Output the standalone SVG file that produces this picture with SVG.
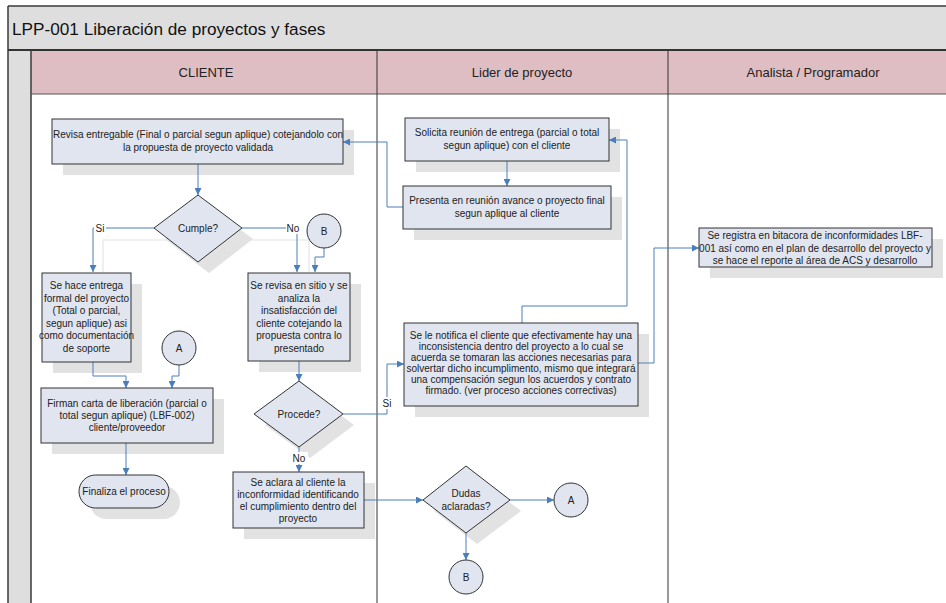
<svg xmlns="http://www.w3.org/2000/svg" width="946" height="603" viewBox="0 0 946 603">
<defs>
<marker id="arr" viewBox="0 0 10 10" refX="10" refY="5" markerWidth="7" markerHeight="7" orient="auto" markerUnits="userSpaceOnUse">
<path d="M0,0 L10,5 L0,10 z" fill="#4a7ebb"/>
</marker>
<style>
.frame{fill:none;stroke:#3a3a3a;stroke-width:1.5}
.box{fill:#e0e5ef;stroke:#333;stroke-width:1}
.sh{fill:#e2e2e2;stroke:none}
.conn{fill:none;stroke:#4a7ebb;stroke-width:1;marker-end:url(#arr)}
.line{fill:none;stroke:#4a7ebb;stroke-width:1}
.cs{fill:none;stroke:#e4e4e4;stroke-width:1.2}
.t{font-family:"Liberation Sans",Arial,sans-serif;font-size:10px;fill:#222;text-anchor:middle}
.lbl{font-family:"Liberation Sans",Arial,sans-serif;font-size:10px;fill:#222;text-anchor:middle}
.hd{font-family:"Liberation Sans",Arial,sans-serif;font-size:13px;fill:#222;text-anchor:middle}
</style>
</defs>
<rect width="946" height="603" fill="#ffffff"/>
<!-- pool frame -->
<g id="pool">
<rect x="8" y="6" width="945" height="44" fill="#dedede"/>
<text x="12" y="35" font-family="Liberation Sans,Arial,sans-serif" font-size="17.2" fill="#111">LPP-001 Liberación de proyectos y fases</text>
<rect x="8" y="50" width="23" height="560" fill="#dedede"/>
<rect x="31" y="50" width="920" height="44" fill="#dfbec3"/>
<line x1="8" y1="6" x2="946" y2="6" class="frame"/>
<line x1="8" y1="6" x2="8" y2="603" class="frame"/>
<line x1="8" y1="50" x2="946" y2="50" stroke="#333" stroke-width="2"/>
<line x1="31" y1="50" x2="31" y2="603" class="frame"/>
<line x1="31" y1="94" x2="946" y2="94" stroke="#555" stroke-width="1"/>
<line x1="377" y1="50" x2="377" y2="603" stroke="#333" stroke-width="1"/>
<line x1="668" y1="50" x2="668" y2="603" stroke="#333" stroke-width="1"/>
<text x="206" y="77" class="hd">CLIENTE</text>
<text x="522" y="77" class="hd">Lider de proyecto</text>
<text x="813" y="77" class="hd">Analista / Programador</text>
</g>
<!-- shadows -->
<g id="shadows">
<rect x="63" y="130" width="291" height="45" class="sh"/>
<polygon points="209,206 253,239 209,273 165,239" class="sh"/>
<rect x="53" y="284" width="89" height="89" class="sh"/>
<rect x="259" y="284" width="102" height="88" class="sh"/>
<rect x="52" y="399" width="172" height="55" class="sh"/>
<rect x="90" y="486" width="90" height="33" rx="16.5" class="sh"/>
<polygon points="310,392 354,425 310,458 265,425" class="sh"/>
<rect x="244" y="483" width="131" height="56" class="sh"/>
<polygon points="477,477 521,511 477,544 434,511" class="sh"/>
<rect x="416" y="129" width="204" height="43" class="sh"/>
<rect x="414" y="197" width="208" height="43" class="sh"/>
<rect x="415" y="334" width="234" height="83" class="sh"/>
<rect x="710" y="239" width="233" height="39" class="sh"/>
<path d="M103,272 V240 H309 V272" class="cs"/>
</g>
<!-- connectors -->
<g id="connectors">
<path d="M198,164 V195" class="conn"/>
<path d="M154,228 H93 V272" class="conn"/>
<path d="M242,228 H297 V272" class="conn"/>
<path d="M324,248 V257 H315 V272" class="conn"/>
<path d="M93,362 V376 H126 V388" class="conn"/>
<path d="M179,365 V376 H172 V388" class="conn"/>
<path d="M126,443 V475" class="conn"/>
<path d="M299,361 V381" class="conn"/>
<path d="M299,447 V472" class="conn"/>
<path d="M343,414 H387 V364 H404" class="conn"/>
<path d="M364,500 H423" class="conn"/>
<path d="M510,500 H554" class="conn"/>
<path d="M466,533 V560" class="conn"/>
<path d="M507,161 V186" class="conn"/>
<path d="M403,207 H387 V142 H343" class="conn"/>
<path d="M522,323 V306 H627 V140 H609" class="conn"/>
<path d="M638,363 H654 V248 H699" class="conn"/>
<rect x="94" y="222" width="12" height="12" fill="#fff"/>
<text x="100" y="232" class="lbl">Si</text>
<rect x="286" y="222" width="16" height="12" fill="#fff"/>
<text x="293" y="232" class="lbl">No</text>
<rect x="290" y="452" width="18" height="12" fill="#fff"/>
<text x="299" y="462" class="lbl">No</text>
<rect x="381" y="397" width="12" height="12" fill="#fff"/>
<text x="387" y="407" class="lbl">Si</text>
</g>
<!-- nodes -->
<g id="n-revisa">
<rect x="52" y="119" width="291" height="45" class="box"/>
<text class="t" x="198" y="138">Revisa entregable (Final o parcial segun aplique) cotejandolo con</text>
<text class="t" x="198" y="151">la propuesta de proyecto validada</text>
</g>
<g id="n-cumple">
<polygon points="198,195 242,228 198,262 154,228" class="box"/>
<text class="t" x="198" y="232">Cumple?</text>
</g>
<g id="n-b1">
<circle cx="324" cy="231" r="17" class="box"/>
<text class="t" x="324" y="235">B</text>
</g>
<g id="n-entrega">
<rect x="42" y="273" width="89" height="89" class="box"/>
<text class="t" x="86.5" y="289">Se hace entrega</text>
<text class="t" x="86.5" y="301.5">formal del proyecto</text>
<text class="t" x="86.5" y="314">(Total o parcial,</text>
<text class="t" x="86.5" y="326.5">segun aplique) asi</text>
<text class="t" x="86.5" y="339">como documentación</text>
<text class="t" x="86.5" y="351.5">de soporte</text>
</g>
<g id="n-a1">
<circle cx="179" cy="348" r="17" class="box"/>
<text class="t" x="179" y="352">A</text>
</g>
<g id="n-firman">
<rect x="41" y="388" width="172" height="55" class="box"/>
<text class="t" x="127" y="407">Firman carta de liberación (parcial o</text>
<text class="t" x="127" y="419">total segun aplique) (LBF-002)</text>
<text class="t" x="127" y="431">cliente/proveedor</text>
</g>
<g id="n-finaliza">
<rect x="79" y="475" width="90" height="33" rx="16.5" class="box"/>
<text class="t" x="124" y="495">Finaliza el proceso</text>
</g>
<g id="n-revisasitio">
<rect x="248" y="273" width="102" height="88" class="box"/>
<text class="t" x="299" y="289">Se revisa en sitio y se</text>
<text class="t" x="299" y="301.5">analiza la</text>
<text class="t" x="299" y="314">insatisfacción del</text>
<text class="t" x="299" y="326.5">cliente cotejando la</text>
<text class="t" x="299" y="339">propuesta contra lo</text>
<text class="t" x="299" y="351.5">presentado</text>
</g>
<g id="n-procede">
<polygon points="299,381 343,414 299,447 254,414" class="box"/>
<text class="t" x="299" y="418">Procede?</text>
</g>
<g id="n-aclara">
<rect x="233" y="472" width="131" height="56" class="box"/>
<text class="t" x="298" y="486">Se aclara al cliente la</text>
<text class="t" x="298" y="498">inconformidad identificando</text>
<text class="t" x="298" y="510">el cumplimiento dentro del</text>
<text class="t" x="298" y="522">proyecto</text>
</g>
<g id="n-dudas">
<polygon points="466,466 510,500 466,533 423,500" class="box"/>
<text class="t" x="466" y="497">Dudas</text>
<text class="t" x="466" y="510">aclaradas?</text>
</g>
<g id="n-a2">
<circle cx="571" cy="500" r="17" class="box"/>
<text class="t" x="571" y="504">A</text>
</g>
<g id="n-b2">
<circle cx="466" cy="577" r="17" class="box"/>
<text class="t" x="466" y="581">B</text>
</g>
<g id="n-solicita">
<rect x="405" y="118" width="204" height="43" class="box"/>
<text class="t" x="507" y="136">Solicita reunión de entrega (parcial o total</text>
<text class="t" x="507" y="149">segun aplique) con el cliente</text>
</g>
<g id="n-presenta">
<rect x="403" y="186" width="208" height="43" class="box"/>
<text class="t" x="507" y="204">Presenta en reunión avance o proyecto final</text>
<text class="t" x="507" y="217">segun aplique al cliente</text>
</g>
<g id="n-notifica">
<rect x="404" y="323" width="234" height="83" class="box"/>
<text class="t" x="521" y="338.5">Se le notifica el cliente que efectivamente hay una</text>
<text class="t" x="521" y="349.5">inconsistencia dentro del proyecto a lo cual se</text>
<text class="t" x="521" y="360.5">acuerda se tomaran las acciones necesarias para</text>
<text class="t" x="521" y="371.5">solvertar dicho incumplimento, mismo que integrará</text>
<text class="t" x="521" y="382.5">una compensación segun los acuerdos y contrato</text>
<text class="t" x="521" y="393.5">firmado. (ver proceso acciones correctivas)</text>
</g>
<g id="n-registra">
<rect x="699" y="228" width="233" height="39" class="box"/>
<text class="t" x="815" y="239">Se registra en bitacora de inconformidades LBF-</text>
<text class="t" x="815" y="251.5">001 así como en el plan de desarrollo del proyecto y</text>
<text class="t" x="815" y="264">se hace el reporte al área de ACS y desarrollo</text>
</g>
</svg>
